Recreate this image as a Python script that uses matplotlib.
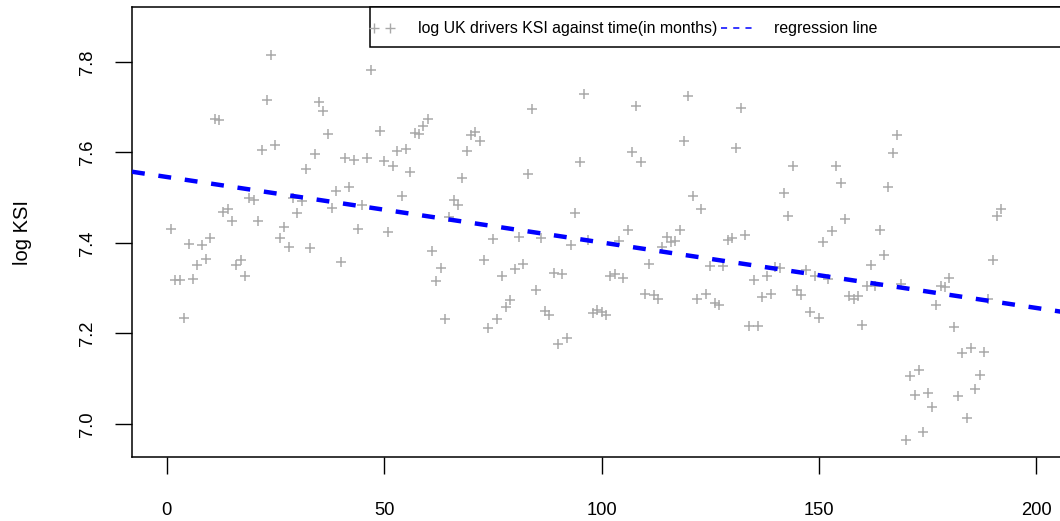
import numpy as np
import matplotlib
matplotlib.use("Agg")
import matplotlib.pyplot as plt
from matplotlib.patches import Rectangle

plt.rcParams['font.family'] = ['Liberation Sans', 'DejaVu Sans']

# monthly UK drivers killed or seriously injured, Jan 1969 - Dec 1984
ksi = [1687, 1508, 1507, 1385, 1632, 1511, 1559, 1630, 1579, 1653, 2152, 2148,
       1752, 1765, 1717, 1558, 1575, 1520, 1805, 1800, 1719, 2008, 2242, 2478,
       2030, 1655, 1693, 1623, 1805, 1746, 1795, 1926, 1619, 1992, 2233, 2192,
       2080, 1768, 1835, 1569, 1976, 1853, 1965, 1689, 1778, 1976, 2397, 2654,
       2097, 1963, 1677, 1941, 2003, 1813, 2012, 1912, 2084, 2080, 2118, 2150,
       1608, 1503, 1548, 1382, 1731, 1798, 1779, 1887, 2004, 2077, 2092, 2051,
       1577, 1356, 1652, 1382, 1519, 1421, 1442, 1543, 1656, 1561, 1905, 2199,
       1473, 1655, 1407, 1395, 1530, 1309, 1526, 1327, 1627, 1748, 1958, 2274,
       1648, 1401, 1411, 1403, 1394, 1520, 1528, 1643, 1515, 1685, 2000, 2215,
       1956, 1462, 1563, 1459, 1446, 1622, 1657, 1638, 1643, 1683, 2050, 2262,
       1813, 1445, 1762, 1461, 1556, 1431, 1427, 1554, 1645, 1653, 2016, 2207,
       1665, 1361, 1506, 1360, 1453, 1522, 1460, 1552, 1548, 1827, 1737, 1941,
       1474, 1458, 1542, 1404, 1522, 1385, 1641, 1510, 1681, 1938, 1868, 1726,
       1456, 1445, 1456, 1365, 1487, 1558, 1488, 1684, 1594, 1850, 1998, 2079,
       1494, 1057, 1218, 1168, 1236, 1076, 1174, 1139, 1427, 1487, 1483, 1513,
       1357, 1165, 1282, 1110, 1297, 1185, 1222, 1284, 1444, 1575, 1737, 1763]
months = np.arange(1, len(ksi) + 1)
log_ksi = np.log(ksi)

x_ticks = [0, 50, 100, 150, 200]
y_ticks = [7.0, 7.2, 7.4, 7.6, 7.8]
legend_labels = ["log UK drivers KSI against time(in months)", "regression line"]

# least squares fit
slope, intercept = np.polyfit(months, log_ksi, 1)

W, H = 1060, 521
fig = plt.figure(figsize=(W / 100, H / 100), dpi=100)
# plot region in pixels (right border falls outside the picture)
L, R, T, B = 132, 1071, 7.3, 457.3
ax = fig.add_axes([L / W, 1 - B / H, (R - L) / W, (B - T) / H])

ax.set_xlim(-8, 208)
ax.set_ylim(6.926, 7.921)

ax.plot(months, log_ksi, linestyle='none', marker='+', color='darkgray',
        markersize=7.5, markeredgewidth=1.1, zorder=2)

xx = np.array([-8, 208])
ax.plot(xx, intercept + slope * xx, color='blue', lw=3.2,
        dashes=(2.9, 3.1), zorder=3)

ax.set_xticks(x_ticks)
ax.set_xticklabels([str(v) for v in x_ticks])
ax.set_yticks(y_ticks)
ax.set_yticklabels(["%.1f" % v for v in y_ticks], rotation=90, va='center')
ax.tick_params(direction='out', length=12.2, width=1.0, labelsize=13.2)
ax.tick_params(axis='x', pad=20)
ax.tick_params(axis='y', pad=14)
for s in ax.spines.values():
    s.set_linewidth(1.1)

ax.text(-0.117, 0.5, "log KSI", rotation=90, ha='center', va='center',
        fontsize=14.5, transform=ax.transAxes)


# legend drawn by hand, positioned in pixels
def px(p):
    return (p - L) / (R - L)


def py(p):
    return 1 - (p - T) / (B - T)


ax.add_patch(Rectangle((px(370), py(47)), px(R + 5) - px(370), py(T) - py(47),
                       transform=ax.transAxes, facecolor='white',
                       edgecolor='black', lw=1.1, clip_on=False, zorder=5))
ax.plot([px(374), px(390)], [py(28), py(28)], transform=ax.transAxes,
        linestyle='none', marker='+', color='darkgray', markersize=7.5,
        markeredgewidth=1.0, clip_on=False, zorder=6)
ax.text(px(418), py(28), legend_labels[0], fontsize=11.4, va='center',
        ha='left', transform=ax.transAxes, zorder=6)
ax.plot([px(721), px(752)], [py(28), py(28)], transform=ax.transAxes,
        color='blue', lw=1.1, dashes=(4, 4), clip_on=False, zorder=6)
ax.text(px(774), py(28), legend_labels[1], fontsize=11.4, va='center',
        ha='left', transform=ax.transAxes, zorder=6)

fig.savefig("out.png", dpi=100)
